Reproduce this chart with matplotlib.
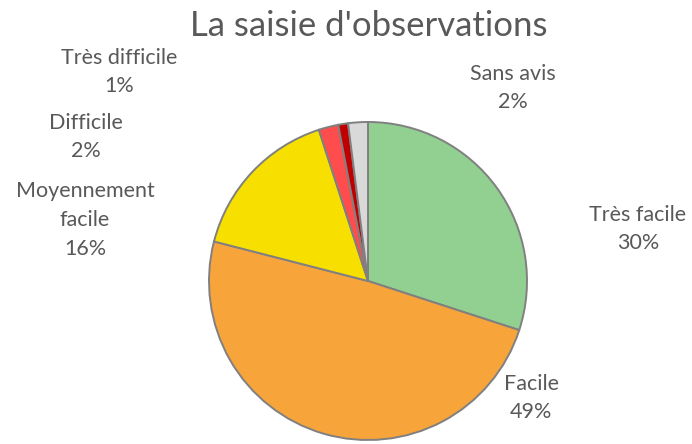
import matplotlib
matplotlib.use("Agg")
import matplotlib.pyplot as plt

categories = ["Très facile", "Facile", "Moyennement facile", "Difficile", "Très difficile", "Sans avis"]
values = [30, 49, 16, 2, 1, 2]
label_texts = ["Très facile\n30%", "Facile\n49%", "Moyennement\nfacile\n16%",
               "Difficile\n2%", "Très difficile\n1%", "Sans avis\n2%"]
colors = ["#92D091", "#F7A43A", "#F7E000", "#FF4C4C", "#C00000", "#D9D9D9"]
# label centres in pixel coordinates (x, y from top)
label_pos = [(638, 229), (531, 398), (85, 220), (86, 137), (119, 72), (513, 88)]

plt.rcParams['font.family'] = ['Lato', 'DejaVu Sans']
W, H = 692, 444
fig = plt.figure(figsize=(W / 100, H / 100), dpi=100)
fig.patch.set_facecolor("white")

cx, cy, r = 368, 281, 159
ax = fig.add_axes([(cx - r) / W, (H - cy - r) / H, 2 * r / W, 2 * r / H])
ax.pie(values, colors=colors, startangle=90, counterclock=False, radius=1,
       wedgeprops=dict(edgecolor="#808080", linewidth=1.4))
ax.set_xlim(-1.0, 1.0)
ax.set_ylim(-1.0, 1.0)
ax.set_aspect("equal")
ax.axis("off")

for txt, (x, y) in zip(label_texts, label_pos):
    fig.text(x / W, 1 - y / H, txt, ha="center", va="center", fontsize=15.5,
             color="#595959", linespacing=1.55)

fig.text(369 / W, 1 - 26 / H, "La saisie d'observations", ha="center", va="center",
         fontsize=25, color="#595959")

fig.savefig("out.png", dpi=100)
